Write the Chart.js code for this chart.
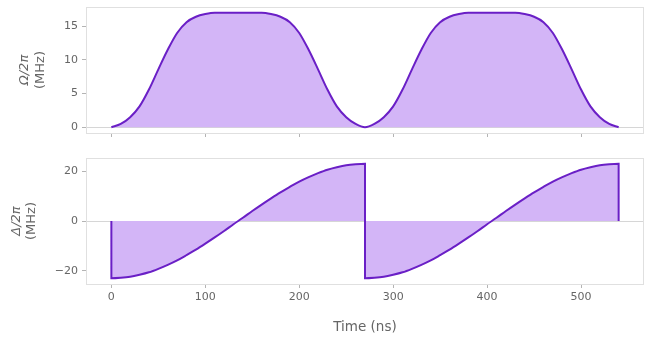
<!DOCTYPE html>
<html>
<head>
<meta charset="utf-8">
<script src="https://cdn.jsdelivr.net/npm/chart.js@4.4.1/dist/chart.umd.min.js"></script>
<style>
html, body { margin: 0; padding: 0; background: #fff; }
#wrap { position: relative; width: 650px; height: 340px; }
#wrap canvas { position: absolute; left: 0; }
</style>
</head>
<body>
<div id="wrap">
	<canvas id="omegaChart" width="650" height="145" style="top:0"></canvas>
	<canvas id="deltaChart" width="650" height="195" style="top:145px"></canvas>
</div>
<script>
// Rabi frequency of the two pulses (ns, MHz)
var omegaTimes = [0, 10, 20, 30, 40, 50, 60, 70, 80, 90, 100, 110, 120, 130, 140, 150, 160, 170, 180, 190, 200, 210, 220, 230, 240, 250, 260, 270,
	280, 290, 300, 310, 320, 330, 340, 350, 360, 370, 380, 390, 400, 410, 420, 430, 440, 450, 460, 470, 480, 490, 500, 510, 520, 530, 540];
var omegaValues = [0, 0.5, 1.5, 3.1, 5.6, 8.6, 11.5, 14.0, 15.6, 16.4, 16.8, 17.0, 17.0, 17.0, 17.0, 17.0, 17.0, 16.8, 16.4, 15.6, 14.0, 11.5, 8.6, 5.6, 3.1, 1.5, 0.5, 0,
	0.5, 1.5, 3.1, 5.6, 8.6, 11.5, 14.0, 15.6, 16.4, 16.8, 17.0, 17.0, 17.0, 17.0, 17.0, 17.0, 16.8, 16.4, 15.6, 14.0, 11.5, 8.6, 5.6, 3.1, 1.5, 0.5, 0];

// detuning sweep, jumps back at 270 ns
var deltaTimes = [0, 0, 10, 20, 30, 40, 50, 60, 70, 80, 90, 100, 110, 120, 130, 140, 150, 160, 170, 180, 190, 200, 210, 220, 230, 240, 250, 260, 270,
	270, 280, 290, 300, 310, 320, 330, 340, 350, 360, 370, 380, 390, 400, 410, 420, 430, 440, 450, 460, 470, 480, 490, 500, 510, 520, 530, 540, 540];
var deltaValues = [0, -23.0, -22.8, -22.4, -21.6, -20.6, -19.2, -17.6, -15.8, -13.7, -11.5, -9.1, -6.6, -4.0, -1.3, 1.3, 4.0, 6.6, 9.1, 11.5, 13.7, 15.8, 17.6, 19.2, 20.6, 21.6, 22.4, 22.8, 23.0,
	-23.0, -22.8, -22.4, -21.6, -20.6, -19.2, -17.6, -15.8, -13.7, -11.5, -9.1, -6.6, -4.0, -1.3, 1.3, 4.0, 6.6, 9.1, 11.5, 13.7, 15.8, 17.6, 19.2, 20.6, 21.6, 22.4, 22.8, 23.0, 0];

var timeTicks = [0, 100, 200, 300, 400, 500];
var omegaTicks = [0, 5, 10, 15];
var deltaTicks = [-20, 0, 20];

var lineColor = '#6a1fc6';
var fillColor = '#d3b5f7';
var textColor = '#666666';
var frameColor = '#e0e0e0';
var zeroColor = '#d6d6d6';
var tickMarkColor = '#b4b4b4';
var fontFamily = "'DejaVu Sans', sans-serif";

var toPoints = function(xs, ys) {
	var pts = [];
	for (var i = 0; i < xs.length; i++) {
		pts.push({x: xs[i], y: ys[i]});
	}
	return pts;
};

var fixedTicks = function(values) {
	return function(scale) {
		scale.ticks = values.map(function(v) { return {value: v}; });
	};
};

var minusFmt = function(value) {
	return value < 0 ? '\u2212' + Math.abs(value) : String(value);
};

// box around the plot area plus the zero line
var framePlugin = {
	id: 'frame',
	beforeDatasetsDraw: function(chart) {
		var a = chart.chartArea;
		var ctx = chart.ctx;
		var y0 = Math.round(chart.scales.y.getPixelForValue(0)) + 0.5;
		ctx.save();
		ctx.lineWidth = 1;
		ctx.strokeStyle = zeroColor;
		ctx.beginPath();
		ctx.moveTo(a.left, y0);
		ctx.lineTo(a.right, y0);
		ctx.stroke();
		ctx.strokeStyle = frameColor;
		ctx.strokeRect(Math.round(a.left) + 0.5, Math.round(a.top) + 0.5,
			Math.round(a.right - a.left) - 1, Math.round(a.bottom - a.top));
		ctx.restore();
	}
};

// two-line rotated y title: italic symbol, upright unit
var yTitlePlugin = {
	id: 'yTitle',
	afterDraw: function(chart, args, o) {
		var a = chart.chartArea;
		var ctx = chart.ctx;
		var cy = (a.top + a.bottom) / 2;
		var lines = [
			{text: o.symbol, x: o.x1, font: 'italic 13px ' + fontFamily},
			{text: '(MHz)', x: o.x2, font: '13px ' + fontFamily}
		];
		ctx.save();
		ctx.fillStyle = textColor;
		ctx.textAlign = 'center';
		ctx.textBaseline = 'middle';
		lines.forEach(function(l) {
			ctx.save();
			ctx.translate(l.x, cy);
			ctx.rotate(-Math.PI / 2);
			ctx.font = l.font;
			ctx.fillText(l.text, 0, 0);
			ctx.restore();
		});
		ctx.restore();
	}
};

var panelFn = function(target, opts) {
	return new Chart(document.getElementById(target), {
		type: 'line',
		data: {
			datasets: [{
				data: toPoints(opts.xs, opts.ys),
				borderColor: lineColor,
				backgroundColor: fillColor,
				borderWidth: 2,
				pointRadius: 0,
				fill: 'origin',
				cubicInterpolationMode: 'monotone'
			}]
		},
		options: {
			responsive: false,
			animation: false,
			events: [],
			layout: {padding: {top: opts.padTop, right: 6, left: 0, bottom: 0}},
			plugins: {
				legend: {display: false},
				tooltip: {enabled: false},
				yTitle: {symbol: opts.symbol, x1: opts.titleX[0], x2: opts.titleX[1]}
			},
			scales: {
				x: {
					type: 'linear',
					min: -27,
					max: 567,
					afterBuildTicks: fixedTicks(timeTicks),
					afterFit: function(s) {
						s.height = opts.xHeight;
						s.paddingLeft = 0;
						s.paddingRight = 0;
					},
					border: {display: false},
					grid: {drawOnChartArea: false, tickLength: 4, color: tickMarkColor},
					ticks: {
						display: opts.showTime,
						color: textColor,
						padding: 3,
						maxRotation: 0,
						font: {family: fontFamily, size: 11}
					},
					title: {
						display: opts.showTime,
						text: 'Time (ns)',
						color: textColor,
						padding: {top: 0, bottom: 4},
						font: {family: fontFamily, size: 13.5}
					}
				},
				y: {
					type: 'linear',
					min: opts.yMin,
					max: opts.yMax,
					afterBuildTicks: fixedTicks(opts.yTicks),
					afterFit: function(s) {
						s.width = 86;
						// labels never sit at the very ends, so no overhang needed
						s.paddingTop = 0;
						s.paddingBottom = 0;
					},
					border: {display: false},
					grid: {drawOnChartArea: false, tickLength: 4, color: tickMarkColor},
					ticks: {
						color: textColor,
						padding: 4,
						callback: minusFmt,
						font: {family: fontFamily, size: 11}
					}
				}
			}
		},
		plugins: [framePlugin, yTitlePlugin]
	});
};

panelFn('omegaChart', {
	xs: omegaTimes, ys: omegaValues,
	yMin: -0.85, yMax: 17.85, yTicks: omegaTicks,
	symbol: '\u03a9/2\u03c0', titleX: [25, 41],
	padTop: 7, xHeight: 12, showTime: false
});

panelFn('deltaChart', {
	xs: deltaTimes, ys: deltaValues,
	yMin: -25.3, yMax: 25.3, yTicks: deltaTicks,
	symbol: '\u0394/2\u03c0', titleX: [17, 32],
	padTop: 13, xHeight: 56, showTime: true
});
</script>
</body>
</html>
